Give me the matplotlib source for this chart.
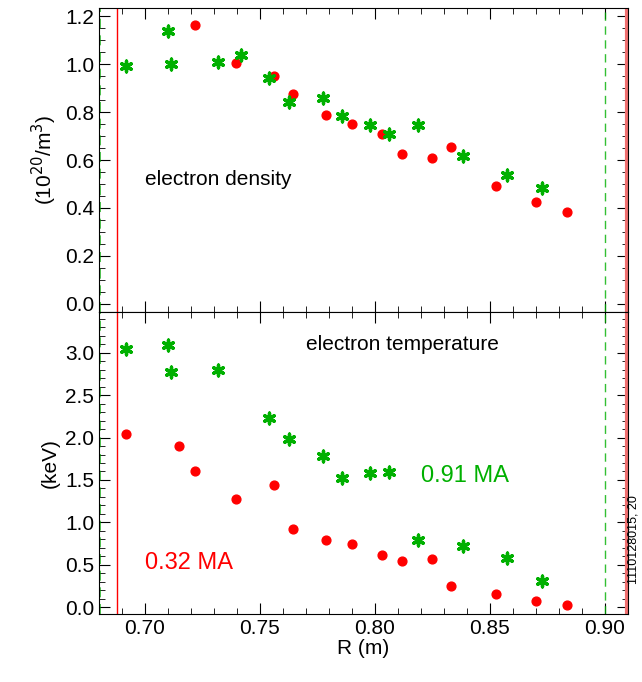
import matplotlib
matplotlib.use("Agg")
import matplotlib.pyplot as plt
from matplotlib.ticker import MultipleLocator

plt.rcParams['font.family'] = ['Liberation Sans', 'DejaVu Sans']

ne_green_R = [0.6916, 0.7102, 0.7113, 0.7318, 0.7418, 0.7540, 0.7624, 0.7774, 0.7855, 0.7977, 0.8060, 0.8185, 0.8382, 0.8573, 0.8726]
ne_green = [0.993, 1.141, 1.001, 1.010, 1.038, 0.943, 0.843, 0.857, 0.784, 0.746, 0.710, 0.746, 0.616, 0.537, 0.485]
ne_red_R = [0.7219, 0.7395, 0.7560, 0.7642, 0.7785, 0.7900, 0.8032, 0.8118, 0.8250, 0.8332, 0.8527, 0.8702, 0.8834]
ne_red = [1.164, 1.007, 0.952, 0.877, 0.788, 0.749, 0.708, 0.627, 0.609, 0.653, 0.490, 0.426, 0.384]

te_green_R = [0.6916, 0.7102, 0.7113, 0.7318, 0.7540, 0.7624, 0.7774, 0.7855, 0.7977, 0.8060, 0.8185, 0.8382, 0.8573, 0.8726]
te_green = [3.048, 3.088, 2.778, 2.802, 2.226, 1.979, 1.781, 1.518, 1.586, 1.594, 0.787, 0.723, 0.584, 0.306]
te_red_R = [0.6916, 0.7150, 0.7219, 0.7395, 0.7560, 0.7642, 0.7785, 0.7900, 0.8032, 0.8118, 0.8250, 0.8332, 0.8527, 0.8702, 0.8834]
te_red = [2.039, 1.896, 1.610, 1.272, 1.443, 0.922, 0.795, 0.747, 0.616, 0.541, 0.568, 0.250, 0.151, 0.076, 0.024]

te_ticks = [0.0, 0.5, 1.0, 1.5, 2.0, 2.5, 3.0]

GREEN = '#00b000'
RED = '#ff0000'

fig = plt.figure(figsize=(6.42, 6.82), dpi=100)
W, H = 642, 682
x0, x1 = 99 / W, 628 / W
ax1 = fig.add_axes([x0, 1 - 312 / H, x1 - x0, (312 - 8) / H])
ax2 = fig.add_axes([x0, 1 - 614 / H, x1 - x0, (614 - 312) / H])

for ax in (ax1, ax2):
    ax.set_xlim(0.68, 0.91)
    ax.axvline(0.688, color=RED, lw=1)
    ax.axvline(0.90, color=GREEN, lw=1, ls=(0, (6, 4)), alpha=0.8)
    ax.axvline(0.6805, color=GREEN, lw=1.2, ls=(0, (6, 4)), alpha=0.8)
    ax.axvline(0.9095, color='#f07070', lw=3)
    ax.xaxis.set_major_locator(MultipleLocator(0.05))
    ax.xaxis.set_minor_locator(MultipleLocator(0.01))
    ax.tick_params(which='both', direction='in', top=True, right=True, labelsize=15)
    ax.tick_params(which='major', length=8)
    ax.tick_params(which='minor', length=4)

ax1.scatter(ne_red_R, ne_red, s=40, color=RED, zorder=3)
ax1.scatter(ne_green_R, ne_green, s=60, color=GREEN, marker=(6, 2, 0), linewidths=2.4, zorder=4)
ax1.set_ylim(-0.035, 1.235)
ax1.yaxis.set_major_locator(MultipleLocator(0.2))
ax1.yaxis.set_minor_locator(MultipleLocator(0.05))
ax1.set_xticklabels([])
ax1.set_ylabel('(10$^{20}$/m$^3$)', fontsize=15)
ax1.text(0.70, 0.52, 'electron density', fontsize=15, va='center')

ax2.scatter(te_red_R, te_red, s=40, color=RED, zorder=3)
ax2.scatter(te_green_R, te_green, s=60, color=GREEN, marker=(6, 2, 0), linewidths=2.4, zorder=4)
ax2.set_ylim(-0.08, 3.48)
ax2.set_yticks(te_ticks)
ax2.set_yticklabels([f'{t:.1f}' for t in te_ticks])
ax2.yaxis.set_minor_locator(MultipleLocator(0.1))
ax2.set_xticks([0.70, 0.75, 0.80, 0.85, 0.90])
ax2.set_xticklabels(['0.70', '0.75', '0.80', '0.85', '0.90'])
ax2.set_ylabel('(keV)', fontsize=15)
ax2.set_xlabel('R (m)', fontsize=15, labelpad=1)
ax2.text(0.770, 3.1, 'electron temperature', fontsize=15, va='center')
ax2.text(0.820, 1.55, '0.91 MA', fontsize=17, color=GREEN, va='center')
ax2.text(0.700, 0.52, '0.32 MA', fontsize=17, color=RED, va='center')

fig.text(634 / W, 1 - 540 / H, '1110128015, 20', rotation=90, fontsize=9, ha='center', va='center')

fig.savefig('out.png', dpi=100)
